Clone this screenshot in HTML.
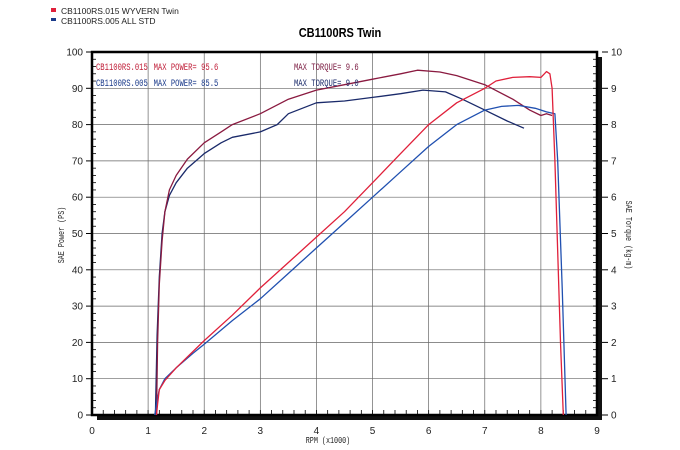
<!DOCTYPE html>
<html><head><meta charset="utf-8">
<style>
html,body{margin:0;padding:0;background:#fff;width:680px;height:450px;overflow:hidden}
svg{display:block}
text{font-family:"Liberation Sans",sans-serif}
.m{font-family:"Liberation Mono",monospace}
</style></head>
<body>
<svg id="s" width="680" height="450" xmlns="http://www.w3.org/2000/svg">
<rect x="51" y="8" width="5" height="4" fill="#e0203a"/>
<rect x="51" y="18" width="5" height="3" fill="#1a3a8a"/>
<text x="61" y="14" font-size="8.5" fill="#222">CB1100RS.015   WYVERN Twin</text>
<text x="61" y="24" font-size="8.5" fill="#222">CB1100RS.005   ALL STD</text>
<text x="340" y="37" font-size="13" font-weight="bold" text-anchor="middle" transform="translate(340 0) scale(0.85 1) translate(-340 0)" fill="#000">CB1100RS Twin</text>
<g id="g"></g>
<g font-size="10" fill="#c0203a" transform="translate(96 0) scale(0.72 1) translate(-96 0)">
<text class="m" x="96" y="70">CB1100RS.015</text><text class="m" x="176" y="70">MAX POWER= 95.6</text>
</g>
<g font-size="10" fill="#1a3a8a" transform="translate(96 0) scale(0.72 1) translate(-96 0)">
<text class="m" x="96" y="86">CB1100RS.005</text><text class="m" x="176" y="86">MAX POWER= 85.5</text>
</g>
<text class="m" x="294" y="70" font-size="10" fill="#7a1a40" transform="translate(294 0) scale(0.72 1) translate(-294 0)">MAX TORQUE= 9.6</text>
<text class="m" x="294" y="86" font-size="10" fill="#1a2a6a" transform="translate(294 0) scale(0.72 1) translate(-294 0)">MAX TORQUE= 9.0</text>
<text class="m" x="328" y="443" font-size="9" text-anchor="middle" fill="#222" transform="translate(328 0) scale(0.75 1) translate(-328 0)">RPM (x1000)</text>
<text class="m" transform="translate(64 235) rotate(-90) scale(0.75 1)" font-size="9" text-anchor="middle" fill="#222">SAE Power (PS)</text>
<text class="m" transform="translate(626 235) rotate(90) scale(0.75 1)" font-size="9" text-anchor="middle" fill="#222">SAE Torque (kg-m)</text>
</svg>
<script>
var X=function(r){return 92+r*56.11},Y=function(v){return 415-v*3.63};
var h='';
for(var i=1;i<9;i++)h+='<line x1="'+X(i)+'" y1="52" x2="'+X(i)+'" y2="415" stroke="#666" stroke-width="0.7"/>';
for(var v=10;v<100;v+=10)h+='<line x1="92" y1="'+Y(v)+'" x2="597" y2="'+Y(v)+'" stroke="#666" stroke-width="0.7"/>';
for(var v=0;v<=100;v+=2){var y=Y(v);h+='<line x1="92" y1="'+y+'" x2="'+(v%10?96:92)+'" y2="'+y+'" stroke="#000" stroke-width="0.8"/>';
 h+='<line x1="597" y1="'+y+'" x2="593" y2="'+y+'" stroke="#000" stroke-width="0.8"/>';}
for(var v=0;v<=100;v+=10){var y=Y(v);h+='<line x1="86" y1="'+y+'" x2="92" y2="'+y+'" stroke="#000"/><line x1="602" y1="'+y+'" x2="608" y2="'+y+'" stroke="#000"/>';
 h+='<text x="83" y="'+(y+3.5)+'" font-size="10" text-anchor="end" fill="#222">'+v+'</text>';
 h+='<text x="611" y="'+(y+3.5)+'" font-size="10" fill="#222">'+(v/10)+'</text>';}
for(var r=0;r<=9.001;r+=0.2){var x=X(r);h+='<line x1="'+x+'" y1="415" x2="'+x+'" y2="410" stroke="#000" stroke-width="0.8"/>';}
for(var i=0;i<=9;i++)h+='<text x="'+X(i)+'" y="434" font-size="10" text-anchor="middle" fill="#222">'+i+'</text>';
h+='<rect x="597" y="57" width="5" height="363" fill="#111"/><rect x="97" y="415" width="505" height="5" fill="#111"/>';
h+='<rect x="92" y="52" width="505" height="363" fill="none" stroke="#000" stroke-width="2.5"/>';
function P(d,c,w){var s='';for(var k=0;k<d.length;k+=2)s+=X(d[k]).toFixed(1)+','+Y(d[k+1]).toFixed(1)+' ';
 return '<polyline points="'+s+'" fill="none" stroke="'+c+'" stroke-width="'+w+'" stroke-linejoin="round"/>';}
var rp=[1.15,0,1.17,3,1.2,7,1.3,9.5,1.5,13,1.8,17.5,2,20.5,2.5,27.5,3,35,3.5,42,4,49,4.5,56,5,64,5.5,72,6,80,6.5,86,7,90,7.2,92,7.5,93,7.8,93.2,8,93,8.1,94.6,8.16,94,8.2,90,8.25,70,8.3,45,8.35,20,8.4,0];
var bp=[1.12,0,1.15,3,1.2,7,1.3,10,1.5,13,1.8,17,2,19.5,2.5,26,3,32,3.5,39,4,46,4.5,53,5,60,5.5,67,6,74,6.5,80,7,84,7.3,85,7.6,85.3,7.9,84.5,8.1,83.5,8.25,83,8.3,70,8.38,35,8.45,0];
var rt=[1.15,0,1.17,20,1.2,36,1.25,48,1.3,56,1.38,62,1.5,66,1.7,70.5,2,75,2.3,78,2.5,80,3,83,3.5,87,4,89.5,4.5,91,5,92.5,5.5,94,5.8,95,6.2,94.5,6.5,93.5,7,91,7.5,87,7.8,84,8,82.5,8.1,83,8.2,82.5];
var bt=[1.13,0,1.16,22,1.2,38,1.25,50,1.3,56,1.38,60.5,1.5,64,1.7,68,2,72,2.3,75,2.5,76.5,3,78,3.3,80,3.5,83,4,86,4.5,86.5,5,87.5,5.5,88.5,5.9,89.5,6.3,89,6.6,87,7,84,7.4,81,7.7,79];
h+=P(bt,'#1a2a6a',1.3)+P(rt,'#8a1a40',1.3)+P(bp,'#2050b0',1.3)+P(rp,'#e0203a',1.3);
document.getElementById('g').innerHTML=h;
</script>
</body></html>
